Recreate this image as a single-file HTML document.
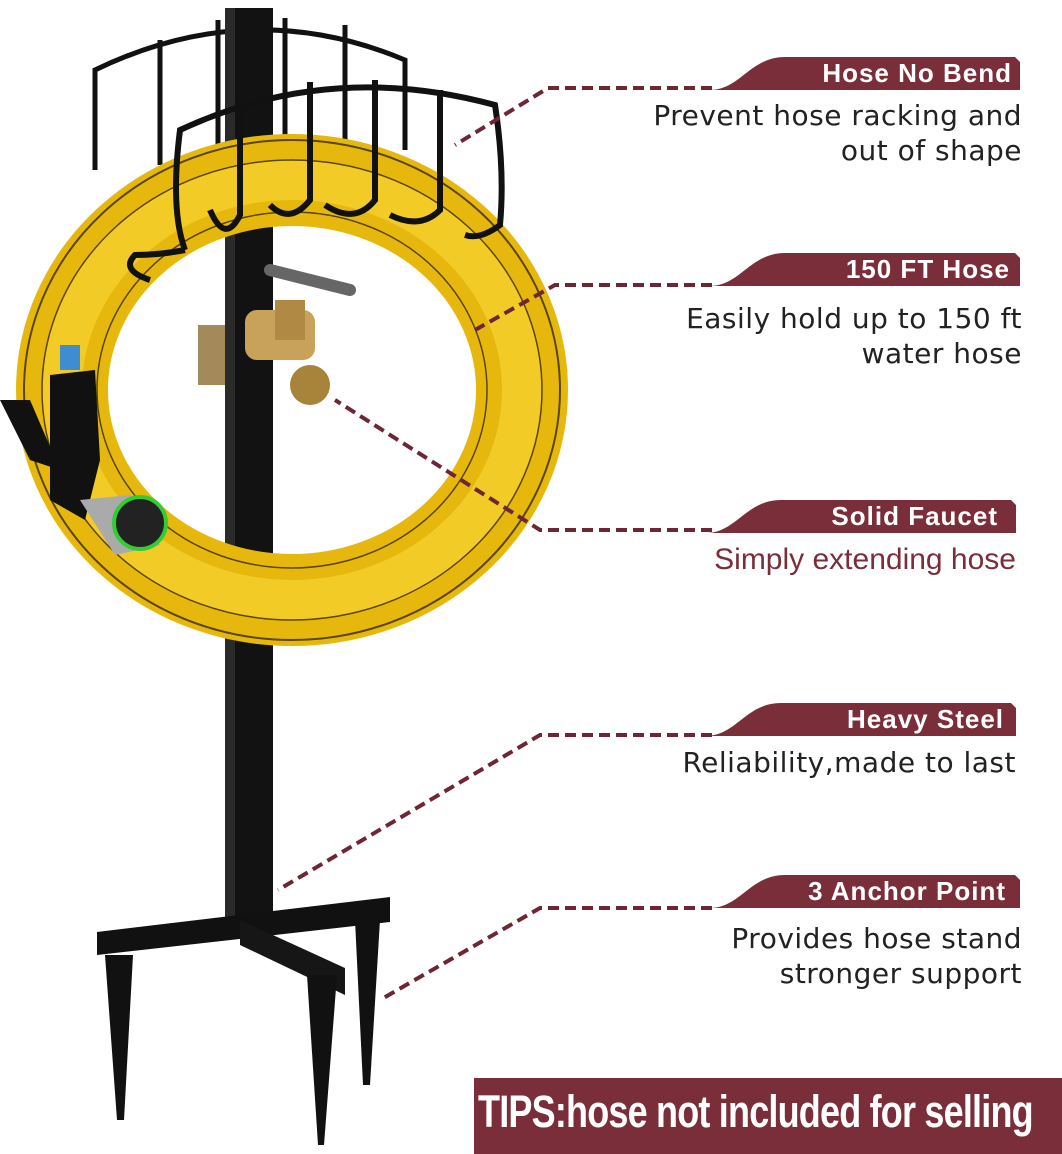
<!DOCTYPE html>
<html><head><style>
body{margin:0;width:1062px;height:1154px;background:#fff;overflow:hidden;position:relative;font-family:"Liberation Sans",sans-serif}
svg{position:absolute;left:0;top:0}
.t{position:absolute;right:40px;text-align:right;font-size:28px;line-height:35px;color:#222;font-family:"DejaVu Sans","Liberation Sans",sans-serif;letter-spacing:0.5px}
.h{position:absolute;color:#fff;font-weight:bold;font-size:26px;letter-spacing:1px;right:52px}
</style></head><body>
<svg width="1062" height="1154" viewBox="0 0 1062 1154">
<defs>
<path id="tab" d="M0 33 C30 33 40 0 75 0 L305 0 L310 5 L310 33 Z"/>
</defs>
<g fill="none" stroke="#111" stroke-width="5">
<path d="M95 170 L95 70 Q250 -5 405 60 L405 150"/>
<path d="M160 40 L160 165 M218 20 L218 150 M285 18 L285 140 M345 25 L345 140"/>
</g>
<rect x="225" y="8" width="48" height="920" fill="#121212"/>
<rect x="225" y="8" width="10" height="920" fill="#2a2a2a"/>
<ellipse cx="292" cy="390" rx="230" ry="210" fill="none" stroke="#e6b80e" stroke-width="92"/>
<ellipse cx="292" cy="390" rx="230" ry="210" fill="none" stroke="#f6d332" stroke-width="40" opacity=".7"/>
<ellipse cx="292" cy="390" rx="268" ry="250" fill="none" stroke="#5a4500" stroke-width="2"/>
<ellipse cx="292" cy="390" rx="250" ry="230" fill="none" stroke="#5a4500" stroke-width="1.5"/>
<ellipse cx="292" cy="390" rx="195" ry="178" fill="none" stroke="#5a4500" stroke-width="1.5"/>
<g fill="none" stroke="#111" stroke-width="6">
<path d="M185 250 Q170 210 180 130 Q330 60 495 105 Q505 170 500 225 Q480 240 465 235"/>
<path d="M185 250 Q160 255 135 255 Q120 270 150 280"/>
<path d="M240 95 L240 215 Q225 245 210 210 M310 82 L310 200 Q290 225 270 205 M375 80 L375 200 Q355 225 325 205 M440 90 L440 210 Q420 230 390 215"/>
</g>
<rect x="245" y="310" width="70" height="50" rx="12" fill="#c8a25a"/>
<rect x="275" y="300" width="30" height="40" fill="#b08a45"/>
<circle cx="310" cy="385" r="20" fill="#a8843a"/>
<path d="M270 270 L350 290" stroke="#666" stroke-width="12" stroke-linecap="round"/>
<rect x="198" y="325" width="27" height="60" fill="#a4895a"/>
<rect x="60" y="345" width="20" height="25" fill="#3d8dd0"/>
<path d="M50 375 L95 370 L100 460 L85 520 L50 500 Z" fill="#111"/>
<path d="M0 400 L30 400 L60 470 L30 460 Z" fill="#111"/>
<path d="M80 500 L130 495 L160 545 L115 555 Z" fill="#aaa"/>
<circle cx="140" cy="523" r="26" fill="#222" stroke="#3c3" stroke-width="4"/>
<path d="M97 932 L390 897 L390 922 L97 955 Z" fill="#111"/>
<path d="M240 920 L345 968 L345 995 L240 945 Z" fill="#161616"/>
<path d="M105 955 L133 955 L124 1120 L117 1120 Z" fill="#111"/>
<path d="M307 975 L337 975 L324 1145 L318 1145 Z" fill="#111"/>
<path d="M355 920 L380 920 L370 1085 L363 1085 Z" fill="#111"/>
<g fill="none" stroke="#6e2534" stroke-width="4" stroke-dasharray="11 6">
<path d="M712 88 L548 88 L455 145"/>
<path d="M712 285 L555 285 L475 330"/>
<path d="M712 530 L540 530 L335 400"/>
<path d="M712 735 L540 735 L278 890"/>
<path d="M712 908 L540 908 L380 1000"/>
</g>
<g fill="#7a2e3a">
<use href="#tab" x="710" y="57"/>
<use href="#tab" x="710" y="253"/>
<use href="#tab" x="706" y="500"/>
<use href="#tab" x="706" y="703"/>
<use href="#tab" x="710" y="875"/>
<rect x="474" y="1078" width="588" height="76"/>
</g>
</svg>
<div class="h" style="top:58px;right:50px">Hose No Bend</div>
<div class="t" style="top:98px">Prevent hose racking and<br>out of shape</div>
<div class="h" style="top:254px;right:52px">150 FT Hose</div>
<div class="t" style="top:301px">Easily hold up to 150 ft<br>water hose</div>
<div class="h" style="top:501px;right:64px">Solid Faucet</div>
<div class="t" style="top:542px;right:46px;color:#7a2e3a;font-family:'Liberation Sans',sans-serif;font-size:30px;letter-spacing:0">Simply extending hose</div>
<div class="h" style="top:704px;right:58px">Heavy Steel</div>
<div class="t" style="top:745px;right:46px">Reliability,made to last</div>
<div class="h" style="top:876px;right:56px">3 Anchor Point</div>
<div class="t" style="top:921px">Provides hose stand<br>stronger support</div>
<div style="position:absolute;left:478px;top:1086px;color:#fff;font-size:45px;font-weight:bold;letter-spacing:-1px;transform:scaleX(.8);transform-origin:left;white-space:nowrap">TIPS:hose not included for selling</div>
</body></html>
